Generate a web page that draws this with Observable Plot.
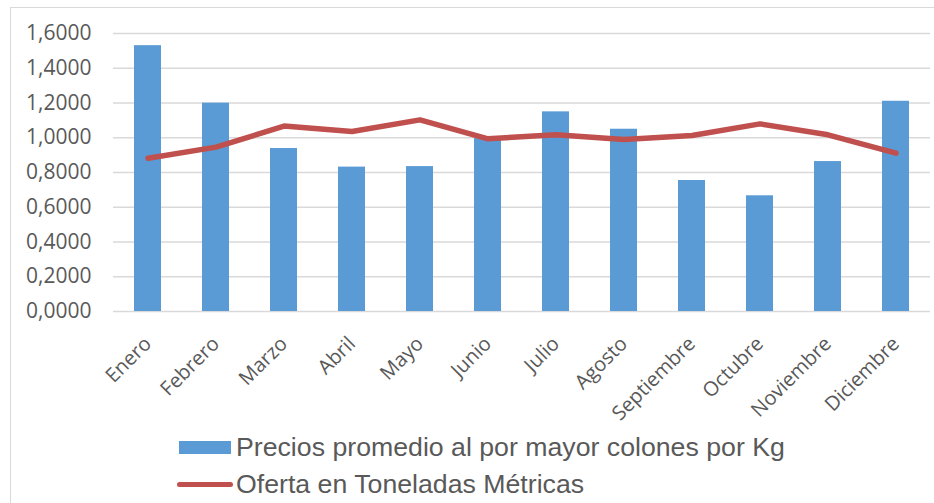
<!DOCTYPE html>
<html><head><meta charset="utf-8">
<script src="https://cdn.jsdelivr.net/npm/d3@7"></script>
<script src="https://cdn.jsdelivr.net/npm/@observablehq/plot@0.6"></script>
<style>
body{margin:0;background:#fff;}
#wrap{position:relative;width:934px;height:503px;overflow:hidden;background:#fff;}
#frame{position:absolute;left:10px;top:7px;width:960px;height:540px;border:1.5px solid #d9d9d9;box-sizing:border-box;pointer-events:none;}
#chart{position:absolute;left:0;top:0;}
#legend{position:absolute;left:0;top:425px;width:934px;height:78px;font-family:"Liberation Sans",Arial,sans-serif;font-size:26.7px;color:#595959;}
.row{position:absolute;left:177px;display:flex;align-items:center;height:32px;}
.sw-bar{width:52px;height:13px;background:#5B9BD5;margin-left:2px;margin-right:5px;}
.sw-line{width:56px;height:5px;border-radius:3px;background:#C0504D;margin-right:3px;}
</style>
</head><body>
<div id="wrap">
  <div id="chart"></div>
  <div id="legend"></div>
  <div id="frame"></div>
</div>
<script>
const months = ["Enero","Febrero","Marzo","Abril","Mayo","Junio","Julio","Agosto","Septiembre","Octubre","Noviembre","Diciembre"];
const precios = [1.530, 1.199, 0.938, 0.831, 0.834, 0.995, 1.149, 1.049, 0.754, 0.666, 0.863, 1.210];
const oferta = [0.882, 0.946, 1.067, 1.036, 1.103, 0.994, 1.017, 0.990, 1.013, 1.080, 1.017, 0.911];
const yTicks = [0, 0.2, 0.4, 0.6, 0.8, 1.0, 1.2, 1.4, 1.6];
const seriesNames = ["Precios promedio al por mayor colones por Kg", "Oferta en Toneladas Métricas"];

const data = months.map((m, i) => ({mes: m, precio: precios[i], oferta: oferta[i]}));

const chart = Plot.plot({
  width: 934,
  height: 425,
  marginTop: 33,
  marginBottom: 114,
  marginLeft: 113,
  marginRight: 4,
  style: {fontFamily: "'Open Sans', sans-serif", color: "#595959", background: "transparent", overflow: "visible"},
  x: {domain: months, paddingInner: 0.6, paddingOuter: 0.3},
  y: {domain: [0, 1.6]},
  marks: [
    Plot.gridY(yTicks, {stroke: "#d9d9d9", strokeOpacity: 1, strokeWidth: 1.5}),
    Plot.axisY(yTicks, {tickFormat: d => d.toFixed(4).replace(".", ","), label: null, tickSize: 0, tickPadding: 22, fontSize: 21}),
    Plot.axisX({label: null, tickSize: 0, tickRotate: -45, tickPadding: 29, fontSize: 20}),
    Plot.barY(data, {x: "mes", y: "precio", fill: "#5B9BD5"}),
    Plot.line(data, {x: "mes", y: "oferta", stroke: "#C0504D", strokeWidth: 5.5, strokeLinecap: "round", strokeLinejoin: "round"})
  ]
});
document.getElementById("chart").appendChild(chart);

const legend = document.getElementById("legend");
legend.innerHTML =
  `<div class="row" style="top:6px"><div class="sw-bar"></div><span>${seriesNames[0]}</span></div>` +
  `<div class="row" style="top:43px"><div class="sw-line"></div><span>${seriesNames[1]}</span></div>`;
</script>
</body></html>
